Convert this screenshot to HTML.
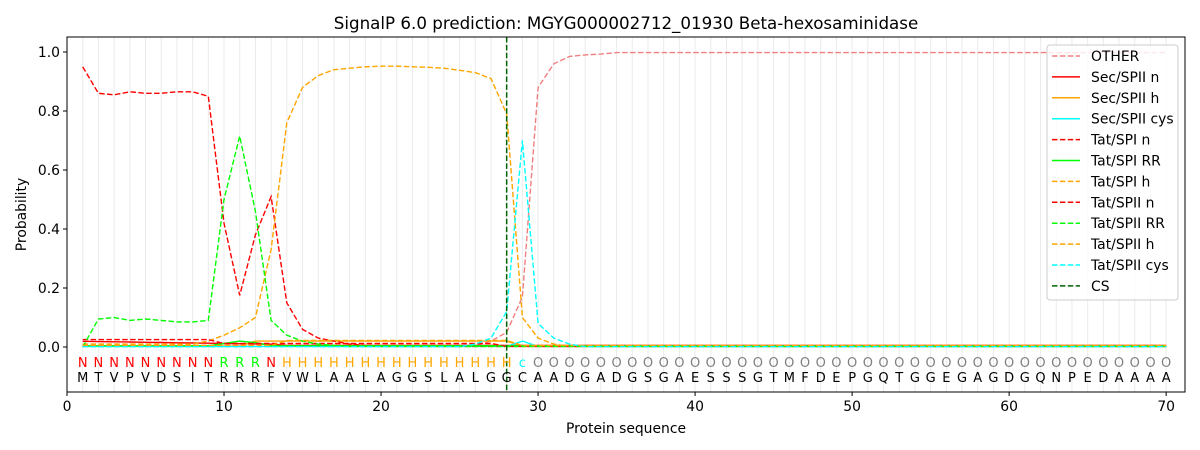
<!DOCTYPE html>
<html><head><meta charset="utf-8"><style>
html,body{margin:0;padding:0;background:#fff;width:1200px;height:450px;overflow:hidden}
text{font-family:"DejaVu Sans","Liberation Sans",sans-serif}
</style></head><body>
<svg id="s" width="1200" height="450" xmlns="http://www.w3.org/2000/svg"></svg>
<script>
const s=document.getElementById('s');
const L=67,R=1185,T=37,B=392;
const X=v=>L+(v-0)*(R-L)/71.2;
const Y=v=>347-v*295;
let h='';
for(let i=1;i<=70;i++)h+=`<line x1="${X(i)}" x2="${X(i)}" y1="${T}" y2="${B}" stroke="#ebebeb" stroke-width="1"/>`;
function arr(f){const a=[];for(let i=1;i<=70;i++)a.push(f(i));return a}
function fromList(list,def){return arr(i=>i<=list.length?list[i-1]:def)}
function line(a,c,dash){let p=a.map((v,i)=>X(i+1).toFixed(1)+','+Y(v).toFixed(1)).join(' ');
h+=`<polyline points="${p}" fill="none" stroke="${c}" stroke-width="1.4" ${dash?'stroke-dasharray="5.5,2.4"':''}/>`}
const other=arr(i=>i<=26?0.005:({27:0.02,28:0.05,29:0.17,30:0.88,31:0.96,32:0.985,33:0.99,34:0.993}[i]||0.998));
const tn=fromList([0.95,0.86,0.855,0.865,0.86,0.86,0.865,0.865,0.85,0.42,0.175,0.38,0.51,0.15,0.06,0.03,0.02,0.01,0.005],0.002);
const trr=fromList([0.0,0.095,0.1,0.09,0.095,0.09,0.085,0.085,0.09,0.5,0.715,0.46,0.09,0.04,0.02,0.01,0.005],0.002);
const th=fromList([0.01,0.01,0.01,0.01,0.01,0.01,0.01,0.01,0.02,0.04,0.065,0.1,0.33,0.76,0.88,0.92,0.94,0.945,0.95,0.952,0.952,0.95,0.948,0.945,0.938,0.93,0.91,0.79,0.1,0.03,0.01],0.002);
const tc=arr(i=>({26:0.01,27:0.03,28:0.12,29:0.7,30:0.08,31:0.03,32:0.01}[i]||0.001));
const sn=arr(i=>i<14?0.02-i*0.0008:0.005);
const sh=arr(i=>i>=12&&i<=28?0.02:0.003);
const srr=arr(i=>({10:0.012,11:0.02,12:0.015}[i]||0.004));
const tsn=arr(i=>i<10?0.025:0.01*(i<28)+0.002);
const tsh=arr(i=>i>=14&&i<=28?0.022:0.005);
line(other,'#f08080',1);
line(sn,'#ff0000',0);line(sh,'#ffa500',0);line(arr(i=>i==29?0.02:0.002),'#00ffff',0);
line(tn,'#ff0000',1);line(srr,'#00ff00',0);line(th,'#ffa500',1);
line(tsn,'#ff0000',1);line(trr,'#00ff00',1);line(tsh,'#ffa500',1);line(tc,'#00ffff',1);
h+=`<line x1="${X(28)}" x2="${X(28)}" y1="${T}" y2="${B}" stroke="#006400" stroke-width="1.5" stroke-dasharray="5.5,2.4"/>`;
const seq="MTVPVDSITRRRFVWLAALAGGSLALGGCAADGADGSGAESSSGTMFDEPGQTGGEGAGDGQNPEDAAAA";
for(let i=1;i<=70;i++){
 let lab,c;
 if(i<=9||i==13){lab='N';c='#ff0000'}else if(i<=12){lab='R';c='#00ff00'}else if(i<=28){lab='H';c='#ffa500'}else if(i==29){lab='c';c='#00ffff'}else{lab='O';c='#808080'}
 h+=`<text x="${X(i)}" y="367" font-size="13" fill="${c}" text-anchor="middle">${lab}</text>`;
 h+=`<text x="${X(i)}" y="382" font-size="13" fill="#000" text-anchor="middle">${seq[i-1]}</text>`;
}
h+=`<rect x="${L}" y="${T}" width="${R-L}" height="${B-T}" fill="none" stroke="#000" stroke-width="1"/>`;
for(let v=0;v<=70;v+=10){h+=`<line x1="${X(v)}" x2="${X(v)}" y1="${B}" y2="${B+4}" stroke="#000"/><text x="${X(v)}" y="${B+19}" font-size="13.9" text-anchor="middle">${v}</text>`}
for(let k=0;k<=5;k++){const v=k*0.2;h+=`<line x1="${L-4}" x2="${L}" y1="${Y(v)}" y2="${Y(v)}" stroke="#000"/><text x="${L-7}" y="${Y(v)+5}" font-size="13.9" text-anchor="end">${v.toFixed(1)}</text>`}
h+=`<text x="${(L+R)/2}" y="29" font-size="16.7" text-anchor="middle">SignalP 6.0 prediction: MGYG000002712_01930 Beta-hexosaminidase</text>`;
h+=`<text x="${(L+R)/2}" y="433" font-size="13.9" text-anchor="middle">Protein sequence</text>`;
h+=`<text transform="translate(26,${(T+B)/2}) rotate(-90)" font-size="13.9" text-anchor="middle">Probability</text>`;
h+=`<rect x="1047" y="45" width="131" height="255" rx="3" fill="#fff" fill-opacity="0.8" stroke="#ccc"/>`;
const lg=[['OTHER','#f08080',1],['Sec/SPII n','#ff0000',0],['Sec/SPII h','#ffa500',0],['Sec/SPII cys','#00ffff',0],['Tat/SPI n','#ff0000',1],['Tat/SPI RR','#00ff00',0],['Tat/SPI h','#ffa500',1],['Tat/SPII n','#ff0000',1],['Tat/SPII RR','#00ff00',1],['Tat/SPII h','#ffa500',1],['Tat/SPII cys','#00ffff',1],['CS','#006400',1]];
lg.forEach((e,k)=>{const y=56+k*20.9;h+=`<line x1="1052" x2="1080" y1="${y}" y2="${y}" stroke="${e[1]}" stroke-width="1.5" ${e[2]?'stroke-dasharray="5.5,2.4"':''}/><text x="1091" y="${y+5}" font-size="13.9">${e[0]}</text>`});
s.innerHTML=h;
</script>
</body></html>
